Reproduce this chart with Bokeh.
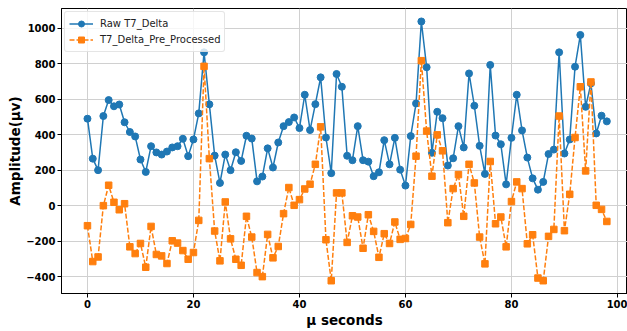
from bokeh.plotting import figure
from bokeh.models import FixedTicker, Range1d, Legend, LegendItem
from bokeh.embed import file_html
from bokeh.resources import INLINE

t = list(range(99))
raw = [490, 265, 200, 505, 595, 560, 570, 470, 415, 390,
       260, 190, 335, 300, 288, 305, 328, 335, 377, 279,
       373, 520, 864, 571, 282, 128, 288, 200, 301, 252,
       394, 378, 137, 164, 323, 215, 356, 448, 471, 497,
       437, 625, 426, 572, 723, 384, 183, 742, 670, 281,
       256, 448, 256, 248, 166, 188, 369, 233, 382, 203,
       113, 392, 576, 1038, 780, 298, 529, 493, 226, 267,
       448, 328, 745, 563, 337, 179, 793, 395, 346, 120,
       382, 625, 424, 271, 154, 90, 134, 291, 316, 864,
       294, 373, 783, 962, 557, 689, 407, 507, 475]
pre = [-113, -315, -289, 0, 115, 19, -23, 11, -232, -270,
       -213, -347, -117, -275, -283, -326, -198, -211, -253, -302,
       -264, -83, 785, 265, -143, -311, 21, -187, -302, -336,
       -60, -177, -377, -400, -162, -294, -230, -45, 102, 2,
       34, 94, 121, 233, 444, -192, -423, 72, 72, -207,
       -57, -64, -240, -51, -145, -291, -158, -213, -92, -190,
       -185, -106, 279, 817, 420, 166, 399, 309, -96, 96,
       175, -60, 233, 128, -177, -328, 249, -102, -64, -232,
       23, 134, 96, -215, -164, -408, -423, -173, -134, 505,
       -141, 64, 384, 670, 196, 697, 2, -21, -89]

x_ticks = [0, 20, 40, 60, 80, 100]
y_ticks = [-400, -200, 0, 200, 400, 600, 800, 1000]
y_tick_labels = ["\u2212400", "\u2212200", "0", "200", "400", "600", "800", "1000"]

BLUE = "#1f77b4"
ORANGE = "#ff7f0e"
FONT = "DejaVu Sans"

p = figure(width=627, height=331, output_backend="svg", toolbar_location=None,
           x_range=Range1d(-4.9, 101.9), y_range=Range1d(-495, 1111),
           min_border_left=61, min_border_right=0, min_border_top=8,
           min_border_bottom=38)
p.background_fill_color = "white"
p.border_fill_color = "white"
p.outline_line_color = "black"
p.outline_line_width = 1

r1 = p.line(t, raw, line_color=BLUE, line_width=1.5)
c1 = p.scatter(t, raw, marker="circle", size=7, fill_color=BLUE, line_color=BLUE)
r2 = p.line(t, pre, line_color=ORANGE, line_width=1.5, line_dash="5 2")
c2 = p.scatter(t, pre, marker="square", size=6.5, fill_color=ORANGE, line_color=ORANGE)

p.xaxis.ticker = FixedTicker(ticks=x_ticks)
p.yaxis.ticker = FixedTicker(ticks=y_ticks)
p.yaxis.major_label_overrides = {k: v for k, v in zip(y_ticks, y_tick_labels)}

for ax in (p.xaxis[0], p.yaxis[0]):
    ax.major_label_text_font = FONT
    ax.major_label_text_font_style = "bold"
    ax.major_label_text_font_size = "10px"
    ax.major_label_text_color = "black"
    ax.axis_label_text_font = FONT
    ax.axis_label_text_font_style = "bold"
    ax.axis_label_text_font_size = "13.5px"
    ax.axis_label_text_color = "black"
    ax.axis_line_color = "black"
    ax.major_tick_line_color = "black"
    ax.major_tick_out = 4
    ax.major_tick_in = 0
    ax.minor_tick_line_color = None
    ax.major_label_standoff = 2

p.xaxis.axis_label_standoff = 1
p.yaxis.axis_label_standoff = 0
p.xaxis.axis_label = "\u03bc seconds"
p.yaxis.axis_label = "Amplitude(\u03bcv)"

p.xgrid.grid_line_color = "#d0d0d0"
p.ygrid.grid_line_color = "#d0d0d0"
p.xgrid.grid_line_width = 1
p.ygrid.grid_line_width = 1

legend = Legend(items=[LegendItem(label="Raw T7_Delta", renderers=[r1, c1]),
                       LegendItem(label="T7_Delta_Pre_Processed", renderers=[r2, c2])],
                location="top_left")
legend.margin = 3
legend.padding = 4
legend.spacing = 1
legend.glyph_width = 24
legend.glyph_height = 15
legend.label_height = 15
legend.label_standoff = 7
legend.label_text_font = FONT
legend.label_text_font_size = "10px"
legend.label_text_color = "#222222"
legend.border_line_color = "#cccccc"
legend.border_line_width = 1
legend.border_radius = 3
legend.background_fill_color = "white"
legend.background_fill_alpha = 0.8
p.add_layout(legend)

open("out.html", "w").write(file_html(p, INLINE))
